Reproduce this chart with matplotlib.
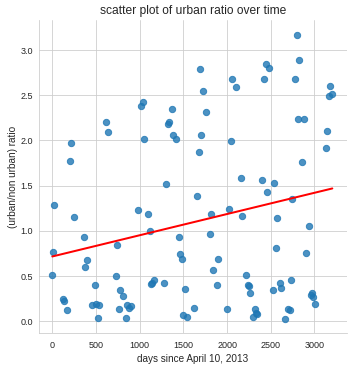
import numpy as np
import pandas as pd
import matplotlib
matplotlib.use('Agg')
import matplotlib.pyplot as plt
import seaborn as sns

# days since April 10, 2013 and urban / non urban ratio
days = [0, 11, 23, 126, 137, 172, 206, 217, 252, 366, 378, 400, 458, 492, 503,
        526, 538, 618, 641, 732, 744, 767, 778, 812, 847, 858, 881, 904, 984,
        1018, 1041, 1053, 1098, 1121, 1133, 1144, 1167, 1281, 1304, 1327, 1339,
        1373, 1384, 1419, 1453, 1465, 1487, 1499, 1522, 1545, 1625, 1659, 1682,
        1690, 1705, 1728, 1762, 1808, 1819, 1842, 1888, 1899, 2002, 2025, 2048,
        2059, 2105, 2162, 2174, 2220, 2243, 2254, 2265, 2300, 2323, 2334, 2346,
        2403, 2426, 2449, 2460, 2483, 2529, 2540, 2563, 2574, 2609, 2620, 2666,
        2693, 2723, 2735, 2746, 2780, 2803, 2815, 2826, 2860, 2883, 2906, 2940,
        2963, 2975, 2986, 3009, 3135, 3146, 3169, 3181, 3204]
ratio = [0.509, 0.763, 1.283, 0.250, 0.221, 0.122, 1.770, 1.969, 1.150, 0.929,
         0.597, 0.675, 0.177, 0.398, 0.188, 0.033, 0.177, 2.205, 2.090, 0.498,
         0.841, 0.133, 0.343, 0.277, 0.033, 0.177, 0.144, 0.166, 1.228, 2.378,
         2.426, 2.013, 1.184, 0.999, 0.409, 0.427, 0.460, 0.420, 1.515, 2.179,
         2.205, 2.348, 2.057, 2.013, 0.929, 0.741, 0.686, 0.066, 0.354, 0.044,
         0.144, 1.383, 1.870, 2.790, 2.057, 2.548, 2.312, 0.962, 1.184, 0.564,
         0.398, 0.686, 0.133, 1.239, 1.991, 2.677, 2.588, 1.582, 1.161, 0.509,
         0.398, 0.387, 0.310, 0.044, 0.133, 0.088, 0.077, 1.560, 2.677, 2.843,
         1.427, 2.799, 0.343, 1.527, 0.808, 1.139, 0.420, 0.365, 0.022, 0.133,
         0.122, 0.454, 1.350, 2.677, 3.164, 2.235, 2.887, 1.759, 2.235, 0.752,
         1.051, 0.288, 0.310, 0.265, 0.188, 1.914, 2.100, 2.489, 2.600, 2.514]

df = pd.DataFrame({'days': days, 'ratio': ratio})

sns.set_style('whitegrid')
plt.rcParams['font.family'] = ['Liberation Sans', 'DejaVu Sans']

fig = plt.figure(figsize=(352 / 72, 366 / 72), dpi=72)
ax = fig.add_axes([38.5 / 352, 1 - 333 / 366, 308.5 / 352, 313 / 366])

sns.regplot(data=df, x='days', y='ratio', ci=None, ax=ax,
            scatter_kws={'s': 40, 'alpha': 0.8},
            line_kws={'color': 'red', 'lw': 2})
sns.despine(ax=ax)

ax.set_xlim(-158, 3372)
ax.set_ylim(-0.13, 3.333)
ax.set_xticks([0, 500, 1000, 1500, 2000, 2500, 3000])
ax.set_yticks([0.0, 0.5, 1.0, 1.5, 2.0, 2.5, 3.0])
ax.tick_params(axis='x', labelsize=9, pad=5)
ax.tick_params(axis='y', labelsize=9, pad=2)
ax.set_xlabel('days since April 10, 2013', fontsize=10, labelpad=4)
ax.set_ylabel('(urban/non urban) ratio', fontsize=10, labelpad=2)
ax.set_title('scatter plot of urban ratio over time', fontsize=12, pad=6)

fig.savefig('out.png', dpi=72)
